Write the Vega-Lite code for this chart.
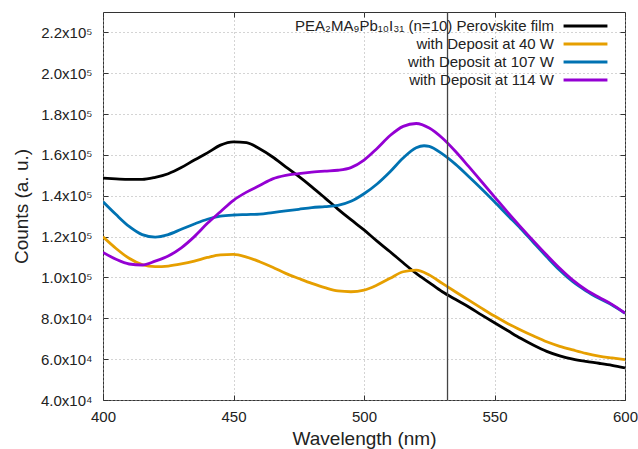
{
  "$schema": "https://vega.github.io/schema/vega-lite/v6.json",
  "width": 522,
  "height": 388,
  "autosize": {"type": "none"},
  "padding": {"left": 103, "top": 12, "right": 13, "bottom": 49},
  "background": "white",
  "config": {
    "font": "Liberation Sans",
    "view": {"stroke": "#333333", "strokeWidth": 1},
    "axis": {
      "labelFont": "Liberation Sans",
      "titleFont": "Liberation Sans",
      "labelFontSize": 15,
      "titleFontSize": 19,
      "titleFontWeight": "normal",
      "labelColor": "#222222",
      "titleColor": "#222222",
      "labelFlush": false,
      "domain": false,
      "tickColor": "#333333",
      "tickSize": -5,
      "gridColor": "#a8a8a8",
      "gridDash": [1, 3],
      "gridWidth": 1
    }
  },
  "data": {
    "values": [
      {"s": "PEA₂MA₉Pb₁₀I₃₁ (n=10) Perovskite film", "wl": 400, "c": 148700},
      {"s": "PEA₂MA₉Pb₁₀I₃₁ (n=10) Perovskite film", "wl": 405, "c": 148300},
      {"s": "PEA₂MA₉Pb₁₀I₃₁ (n=10) Perovskite film", "wl": 410, "c": 148000},
      {"s": "PEA₂MA₉Pb₁₀I₃₁ (n=10) Perovskite film", "wl": 415, "c": 148000},
      {"s": "PEA₂MA₉Pb₁₀I₃₁ (n=10) Perovskite film", "wl": 420, "c": 149000},
      {"s": "PEA₂MA₉Pb₁₀I₃₁ (n=10) Perovskite film", "wl": 425, "c": 150800},
      {"s": "PEA₂MA₉Pb₁₀I₃₁ (n=10) Perovskite film", "wl": 430, "c": 153800},
      {"s": "PEA₂MA₉Pb₁₀I₃₁ (n=10) Perovskite film", "wl": 435, "c": 157500},
      {"s": "PEA₂MA₉Pb₁₀I₃₁ (n=10) Perovskite film", "wl": 440, "c": 161000},
      {"s": "PEA₂MA₉Pb₁₀I₃₁ (n=10) Perovskite film", "wl": 445, "c": 164800},
      {"s": "PEA₂MA₉Pb₁₀I₃₁ (n=10) Perovskite film", "wl": 450, "c": 166400},
      {"s": "PEA₂MA₉Pb₁₀I₃₁ (n=10) Perovskite film", "wl": 455, "c": 166000},
      {"s": "PEA₂MA₉Pb₁₀I₃₁ (n=10) Perovskite film", "wl": 460, "c": 163000},
      {"s": "PEA₂MA₉Pb₁₀I₃₁ (n=10) Perovskite film", "wl": 465, "c": 159000},
      {"s": "PEA₂MA₉Pb₁₀I₃₁ (n=10) Perovskite film", "wl": 470, "c": 154200},
      {"s": "PEA₂MA₉Pb₁₀I₃₁ (n=10) Perovskite film", "wl": 475, "c": 149500},
      {"s": "PEA₂MA₉Pb₁₀I₃₁ (n=10) Perovskite film", "wl": 480, "c": 144400},
      {"s": "PEA₂MA₉Pb₁₀I₃₁ (n=10) Perovskite film", "wl": 485, "c": 139000},
      {"s": "PEA₂MA₉Pb₁₀I₃₁ (n=10) Perovskite film", "wl": 490, "c": 133500},
      {"s": "PEA₂MA₉Pb₁₀I₃₁ (n=10) Perovskite film", "wl": 495, "c": 128300},
      {"s": "PEA₂MA₉Pb₁₀I₃₁ (n=10) Perovskite film", "wl": 500, "c": 123300},
      {"s": "PEA₂MA₉Pb₁₀I₃₁ (n=10) Perovskite film", "wl": 505, "c": 117800},
      {"s": "PEA₂MA₉Pb₁₀I₃₁ (n=10) Perovskite film", "wl": 510, "c": 112600},
      {"s": "PEA₂MA₉Pb₁₀I₃₁ (n=10) Perovskite film", "wl": 515, "c": 107200},
      {"s": "PEA₂MA₉Pb₁₀I₃₁ (n=10) Perovskite film", "wl": 520, "c": 102000},
      {"s": "PEA₂MA₉Pb₁₀I₃₁ (n=10) Perovskite film", "wl": 525, "c": 97500},
      {"s": "PEA₂MA₉Pb₁₀I₃₁ (n=10) Perovskite film", "wl": 530, "c": 93000},
      {"s": "PEA₂MA₉Pb₁₀I₃₁ (n=10) Perovskite film", "wl": 535, "c": 89300},
      {"s": "PEA₂MA₉Pb₁₀I₃₁ (n=10) Perovskite film", "wl": 540, "c": 85700},
      {"s": "PEA₂MA₉Pb₁₀I₃₁ (n=10) Perovskite film", "wl": 545, "c": 81700},
      {"s": "PEA₂MA₉Pb₁₀I₃₁ (n=10) Perovskite film", "wl": 550, "c": 77800},
      {"s": "PEA₂MA₉Pb₁₀I₃₁ (n=10) Perovskite film", "wl": 555, "c": 74000},
      {"s": "PEA₂MA₉Pb₁₀I₃₁ (n=10) Perovskite film", "wl": 560, "c": 70200},
      {"s": "PEA₂MA₉Pb₁₀I₃₁ (n=10) Perovskite film", "wl": 565, "c": 66800},
      {"s": "PEA₂MA₉Pb₁₀I₃₁ (n=10) Perovskite film", "wl": 570, "c": 63800},
      {"s": "PEA₂MA₉Pb₁₀I₃₁ (n=10) Perovskite film", "wl": 575, "c": 61600},
      {"s": "PEA₂MA₉Pb₁₀I₃₁ (n=10) Perovskite film", "wl": 580, "c": 60000},
      {"s": "PEA₂MA₉Pb₁₀I₃₁ (n=10) Perovskite film", "wl": 585, "c": 58900},
      {"s": "PEA₂MA₉Pb₁₀I₃₁ (n=10) Perovskite film", "wl": 590, "c": 58000},
      {"s": "PEA₂MA₉Pb₁₀I₃₁ (n=10) Perovskite film", "wl": 595, "c": 57000},
      {"s": "PEA₂MA₉Pb₁₀I₃₁ (n=10) Perovskite film", "wl": 600, "c": 55700},

      {"s": "with Deposit at 40 W", "wl": 400, "c": 119900},
      {"s": "with Deposit at 40 W", "wl": 405, "c": 114200},
      {"s": "with Deposit at 40 W", "wl": 410, "c": 109400},
      {"s": "with Deposit at 40 W", "wl": 415, "c": 106300},
      {"s": "with Deposit at 40 W", "wl": 420, "c": 105300},
      {"s": "with Deposit at 40 W", "wl": 425, "c": 105600},
      {"s": "with Deposit at 40 W", "wl": 430, "c": 106600},
      {"s": "with Deposit at 40 W", "wl": 435, "c": 108000},
      {"s": "with Deposit at 40 W", "wl": 440, "c": 109800},
      {"s": "with Deposit at 40 W", "wl": 445, "c": 111100},
      {"s": "with Deposit at 40 W", "wl": 450, "c": 111300},
      {"s": "with Deposit at 40 W", "wl": 455, "c": 110000},
      {"s": "with Deposit at 40 W", "wl": 460, "c": 107700},
      {"s": "with Deposit at 40 W", "wl": 465, "c": 105000},
      {"s": "with Deposit at 40 W", "wl": 470, "c": 102000},
      {"s": "with Deposit at 40 W", "wl": 475, "c": 99500},
      {"s": "with Deposit at 40 W", "wl": 480, "c": 97100},
      {"s": "with Deposit at 40 W", "wl": 485, "c": 95000},
      {"s": "with Deposit at 40 W", "wl": 490, "c": 93400},
      {"s": "with Deposit at 40 W", "wl": 495, "c": 93000},
      {"s": "with Deposit at 40 W", "wl": 500, "c": 93800},
      {"s": "with Deposit at 40 W", "wl": 505, "c": 96300},
      {"s": "with Deposit at 40 W", "wl": 510, "c": 99600},
      {"s": "with Deposit at 40 W", "wl": 515, "c": 102800},
      {"s": "with Deposit at 40 W", "wl": 520, "c": 103600},
      {"s": "with Deposit at 40 W", "wl": 525, "c": 101200},
      {"s": "with Deposit at 40 W", "wl": 530, "c": 97100},
      {"s": "with Deposit at 40 W", "wl": 535, "c": 93000},
      {"s": "with Deposit at 40 W", "wl": 540, "c": 89000},
      {"s": "with Deposit at 40 W", "wl": 545, "c": 85000},
      {"s": "with Deposit at 40 W", "wl": 550, "c": 81100},
      {"s": "with Deposit at 40 W", "wl": 555, "c": 77500},
      {"s": "with Deposit at 40 W", "wl": 560, "c": 74300},
      {"s": "with Deposit at 40 W", "wl": 565, "c": 71300},
      {"s": "with Deposit at 40 W", "wl": 570, "c": 68500},
      {"s": "with Deposit at 40 W", "wl": 575, "c": 66300},
      {"s": "with Deposit at 40 W", "wl": 580, "c": 64500},
      {"s": "with Deposit at 40 W", "wl": 585, "c": 62800},
      {"s": "with Deposit at 40 W", "wl": 590, "c": 61500},
      {"s": "with Deposit at 40 W", "wl": 595, "c": 60600},
      {"s": "with Deposit at 40 W", "wl": 600, "c": 59800},

      {"s": "with Deposit at 107 W", "wl": 400, "c": 137100},
      {"s": "with Deposit at 107 W", "wl": 405, "c": 130800},
      {"s": "with Deposit at 107 W", "wl": 410, "c": 125000},
      {"s": "with Deposit at 107 W", "wl": 415, "c": 121000},
      {"s": "with Deposit at 107 W", "wl": 420, "c": 119800},
      {"s": "with Deposit at 107 W", "wl": 425, "c": 121000},
      {"s": "with Deposit at 107 W", "wl": 430, "c": 123600},
      {"s": "with Deposit at 107 W", "wl": 435, "c": 126200},
      {"s": "with Deposit at 107 W", "wl": 440, "c": 128500},
      {"s": "with Deposit at 107 W", "wl": 445, "c": 130000},
      {"s": "with Deposit at 107 W", "wl": 450, "c": 130600},
      {"s": "with Deposit at 107 W", "wl": 455, "c": 130800},
      {"s": "with Deposit at 107 W", "wl": 460, "c": 131000},
      {"s": "with Deposit at 107 W", "wl": 465, "c": 131800},
      {"s": "with Deposit at 107 W", "wl": 470, "c": 132600},
      {"s": "with Deposit at 107 W", "wl": 475, "c": 133400},
      {"s": "with Deposit at 107 W", "wl": 480, "c": 134200},
      {"s": "with Deposit at 107 W", "wl": 485, "c": 134700},
      {"s": "with Deposit at 107 W", "wl": 490, "c": 135300},
      {"s": "with Deposit at 107 W", "wl": 495, "c": 137300},
      {"s": "with Deposit at 107 W", "wl": 500, "c": 141000},
      {"s": "with Deposit at 107 W", "wl": 505, "c": 145800},
      {"s": "with Deposit at 107 W", "wl": 510, "c": 151800},
      {"s": "with Deposit at 107 W", "wl": 515, "c": 158500},
      {"s": "with Deposit at 107 W", "wl": 520, "c": 163500},
      {"s": "with Deposit at 107 W", "wl": 523, "c": 164500},
      {"s": "with Deposit at 107 W", "wl": 525, "c": 164200},
      {"s": "with Deposit at 107 W", "wl": 530, "c": 160500},
      {"s": "with Deposit at 107 W", "wl": 535, "c": 155500},
      {"s": "with Deposit at 107 W", "wl": 540, "c": 149600},
      {"s": "with Deposit at 107 W", "wl": 545, "c": 143500},
      {"s": "with Deposit at 107 W", "wl": 550, "c": 137100},
      {"s": "with Deposit at 107 W", "wl": 555, "c": 130500},
      {"s": "with Deposit at 107 W", "wl": 560, "c": 124000},
      {"s": "with Deposit at 107 W", "wl": 565, "c": 117000},
      {"s": "with Deposit at 107 W", "wl": 570, "c": 110100},
      {"s": "with Deposit at 107 W", "wl": 575, "c": 103500},
      {"s": "with Deposit at 107 W", "wl": 580, "c": 97900},
      {"s": "with Deposit at 107 W", "wl": 585, "c": 93500},
      {"s": "with Deposit at 107 W", "wl": 590, "c": 89800},
      {"s": "with Deposit at 107 W", "wl": 595, "c": 86500},
      {"s": "with Deposit at 107 W", "wl": 600, "c": 82500},

      {"s": "with Deposit at 114 W", "wl": 400, "c": 112300},
      {"s": "with Deposit at 114 W", "wl": 405, "c": 108900},
      {"s": "with Deposit at 114 W", "wl": 410, "c": 106600},
      {"s": "with Deposit at 114 W", "wl": 415, "c": 106100},
      {"s": "with Deposit at 114 W", "wl": 420, "c": 108000},
      {"s": "with Deposit at 114 W", "wl": 425, "c": 110500},
      {"s": "with Deposit at 114 W", "wl": 430, "c": 114500},
      {"s": "with Deposit at 114 W", "wl": 435, "c": 120000},
      {"s": "with Deposit at 114 W", "wl": 440, "c": 126500},
      {"s": "with Deposit at 114 W", "wl": 445, "c": 132200},
      {"s": "with Deposit at 114 W", "wl": 450, "c": 137800},
      {"s": "with Deposit at 114 W", "wl": 455, "c": 141800},
      {"s": "with Deposit at 114 W", "wl": 460, "c": 145000},
      {"s": "with Deposit at 114 W", "wl": 465, "c": 148300},
      {"s": "with Deposit at 114 W", "wl": 470, "c": 150000},
      {"s": "with Deposit at 114 W", "wl": 475, "c": 150900},
      {"s": "with Deposit at 114 W", "wl": 480, "c": 151600},
      {"s": "with Deposit at 114 W", "wl": 485, "c": 152100},
      {"s": "with Deposit at 114 W", "wl": 490, "c": 152500},
      {"s": "with Deposit at 114 W", "wl": 495, "c": 153800},
      {"s": "with Deposit at 114 W", "wl": 500, "c": 157500},
      {"s": "with Deposit at 114 W", "wl": 505, "c": 163200},
      {"s": "with Deposit at 114 W", "wl": 510, "c": 169500},
      {"s": "with Deposit at 114 W", "wl": 515, "c": 174000},
      {"s": "with Deposit at 114 W", "wl": 520, "c": 175400},
      {"s": "with Deposit at 114 W", "wl": 525, "c": 173200},
      {"s": "with Deposit at 114 W", "wl": 530, "c": 168300},
      {"s": "with Deposit at 114 W", "wl": 535, "c": 161800},
      {"s": "with Deposit at 114 W", "wl": 540, "c": 154500},
      {"s": "with Deposit at 114 W", "wl": 545, "c": 147000},
      {"s": "with Deposit at 114 W", "wl": 550, "c": 139500},
      {"s": "with Deposit at 114 W", "wl": 555, "c": 132000},
      {"s": "with Deposit at 114 W", "wl": 560, "c": 124800},
      {"s": "with Deposit at 114 W", "wl": 565, "c": 117800},
      {"s": "with Deposit at 114 W", "wl": 570, "c": 111000},
      {"s": "with Deposit at 114 W", "wl": 575, "c": 104500},
      {"s": "with Deposit at 114 W", "wl": 580, "c": 98700},
      {"s": "with Deposit at 114 W", "wl": 585, "c": 94000},
      {"s": "with Deposit at 114 W", "wl": 590, "c": 90300},
      {"s": "with Deposit at 114 W", "wl": 595, "c": 86800},
      {"s": "with Deposit at 114 W", "wl": 600, "c": 82500}
    ]
  },
  "layer": [
    {
      "mark": {"type": "line", "interpolate": "monotone", "strokeWidth": 2.8, "clip": true},
      "encoding": {
        "x": {
          "field": "wl", "type": "quantitative",
          "scale": {"domain": [400, 600], "nice": false, "zero": false},
          "axis": {"title": "Wavelength (nm)", "values": [400, 450, 500, 550, 600], "grid": true, "labelPadding": 14, "titlePadding": 5}
        },
        "y": {
          "field": "c", "type": "quantitative",
          "scale": {"domain": [40000, 230000], "nice": false, "zero": false},
          "axis": {
            "title": "Counts (a. u.)",
            "values": [40000, 60000, 80000, 100000, 120000, 140000, 160000, 180000, 200000, 220000],
            "labelExpr": "datum.value >= 100000 ? format(datum.value / 100000, '.1f') + 'x10⁵' : format(datum.value / 10000, '.1f') + 'x10⁴'",
            "grid": true, "labelPadding": 16, "titlePadding": 9
          }
        },
        "color": {
          "field": "s", "type": "nominal",
          "scale": {
            "domain": ["PEA₂MA₉Pb₁₀I₃₁ (n=10) Perovskite film", "with Deposit at 40 W", "with Deposit at 107 W", "with Deposit at 114 W"],
            "range": ["#000000", "#e69f00", "#0072b2", "#9400d3"]
          },
          "legend": {
            "title": null,
            "orient": "none",
            "legendX": 475,
            "legendY": 6.5,
            "padding": 0,
            "symbolType": "M-5,0H5",
            "symbolSize": 77,
            "symbolStrokeWidth": 3,
            "labelAlign": "right",
            "labelOffset": -39,
            "labelFontSize": 15,
            "labelFont": "Liberation Sans",
            "labelColor": "#222222",
            "labelLimit": 500,
            "rowPadding": 2
          }
        }
      }
    },
    {
      "data": {"values": [{}]},
      "mark": {"type": "rule", "color": "#444444", "strokeWidth": 1.3},
      "encoding": {
        "x": {
          "datum": 532, "type": "quantitative",
          "axis": {"orient": "top", "title": null, "labels": false, "grid": false, "values": [400, 450, 500, 550, 600]}
        },
        "y": {
          "datum": 40000, "type": "quantitative",
          "axis": {"orient": "right", "title": null, "labels": false, "grid": false, "values": [40000, 60000, 80000, 100000, 120000, 140000, 160000, 180000, 200000, 220000]}
        },
        "y2": {"datum": 230000}
      }
    }
  ],
  "resolve": {"axis": {"x": "independent", "y": "independent"}}
}
